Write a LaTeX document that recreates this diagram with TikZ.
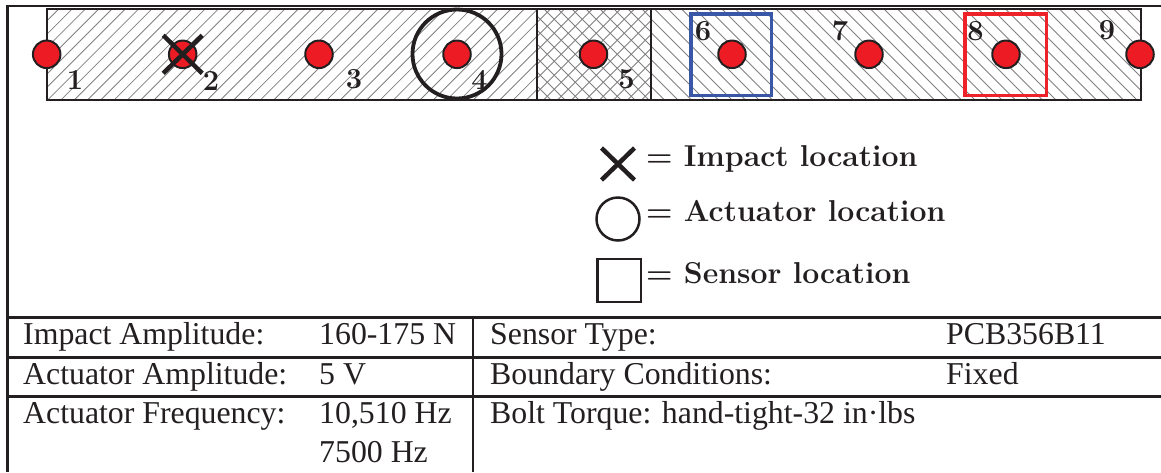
\documentclass[tikz,border=0pt]{standalone}
\usepackage{fontspec}
\newfontfamily\tnr{Liberation Serif}
\definecolor{dotred}{HTML}{ED1C24}
\definecolor{sblue}{HTML}{3A56A6}
\definecolor{sred}{HTML}{EE2229}
\definecolor{ink}{HTML}{231F20}
\begin{document}
\begin{tikzpicture}[x=1pt,y=-1pt,
  frameline/.style={line width=2.5pt, draw=ink},
  dot/.style={circle, fill=dotred, draw=ink, line width=2pt, minimum size=27.5pt, inner sep=0pt},
  lab/.style={font=\fontsize{29}{29}\selectfont\bfseries, inner sep=0pt, text=ink},
  cell/.style={font=\tnr\fontsize{31.8}{31.8}\selectfont, anchor=base west, inner sep=0pt, text=ink},
  legtxt/.style={font=\fontsize{30.2}{30.2}\selectfont\bfseries, anchor=base west, inner sep=0pt, text=ink},
  crossline/.style={line width=4.5pt, draw=ink},
  hatchline/.style={draw=black!50, line width=0.8pt},
]
\useasboundingbox (0,0) rectangle (1161,472);
% beam sections (hatching)
\begin{scope}
  \clip (46.7,9) rectangle (537,99.5);
  \foreach \x in {-45,-31.7,...,540} \draw[hatchline] (\x,99.5) -- (\x+90.5,9);
\end{scope}
\begin{scope}
  \clip (537,9) rectangle (651,99.5);
  \foreach \x in {446,460,...,660} {
    \draw[hatchline] (\x,99.5) -- (\x+90.5,9);
    \draw[hatchline] (\x,9) -- (\x+90.5,99.5);
  }
\end{scope}
\begin{scope}
  \clip (651,9) rectangle (1141,99.5);
  \foreach \x in {560,573.5,...,1150} \draw[hatchline] (\x,9) -- (\x+90.5,99.5);
\end{scope}
\draw[line width=2pt, draw=ink] (46.7,9) rectangle (1141,99.5);
\draw[line width=2pt, draw=ink] (537,9) -- (537,99.5) (651,9) -- (651,99.5);
% outer frame and table rules
\coordinate (tl) at (7.5,6);
\coordinate (tr) at (1161,6);
\coordinate (bl) at (7.5,472);
\draw[frameline] (tr) -- (tl) -- (bl);
\draw[frameline] (7.5,317.7) -- (1161,317.7);
\draw[frameline] (7.5,357.3) -- (1161,357.3);
\draw[frameline] (7.5,396.7) -- (1161,396.7);
\draw[frameline] (473,317.7) -- (473,472);
% actuator and sensors
\node[circle, draw=ink, line width=3.8pt, minimum size=89pt, inner sep=0pt] (act) at (457,54) {};
\node[draw=sblue, line width=3.5pt, minimum width=80.5pt, minimum height=81.5pt, inner sep=0pt] (s6) at (731,54.5) {};
\node[draw=sred, line width=3.5pt, minimum width=81.5pt, minimum height=81.5pt, inner sep=0pt] (s8) at (1005.5,54.5) {};
% dots
\node[dot] (d1) at (46.7,54.3) {};
\node[dot] (d2) at (182.7,54.3) {};
\node[dot] (d3) at (319,54.3) {};
\node[dot] (d4) at (457,54.3) {};
\node[dot] (d5) at (593.5,54.3) {};
\node[dot] (d6) at (732,54.3) {};
\node[dot] (d7) at (869,54.3) {};
\node[dot] (d8) at (1006,54.3) {};
\node[dot] (d9) at (1140,54.3) {};
% impact cross
\draw[crossline] ([shift={(-19.5,-19)}]d2.center) -- ([shift={(19.5,19)}]d2.center);
\draw[crossline] ([shift={(19.5,-19)}]d2.center) -- ([shift={(-19.5,19)}]d2.center);
% labels
\node[lab] (l1) at (75,80) {1};
\node[lab] (l2) at (211,81) {2};
\node[lab] (l3) at (354,79.5) {3};
\node[lab] (l4) at (479.5,80) {4};
\node[lab] (l5) at (626.6,79.5) {5};
\node[lab] (l6) at (703,31) {6};
\node[lab] (l7) at (840,30.5) {7};
\node[lab] (l8) at (975.5,31) {8};
\node[lab] (l9) at (1107,30) {9};
% legend
\coordinate (lx) at (618,164);
\draw[crossline] ([shift={(-16.5,-16)}]lx) -- ([shift={(16.5,16)}]lx);
\draw[crossline] ([shift={(16.5,-16)}]lx) -- ([shift={(-16.5,16)}]lx);
\node[circle, draw=ink, line width=2.5pt, minimum size=43pt, inner sep=0pt] (lc) at (618,219) {};
\node[draw=ink, line width=2.5pt, minimum width=43.5pt, minimum height=43pt, inner sep=0pt] (ls) at (619,280.3) {};
\node[legtxt] (t1) at (646,166.7) {= Impact location};
\node[legtxt] (t2) at (646,221) {= Actuator location};
\node[legtxt] (t3) at (646,283) {= Sensor location};
% table
\node[cell] (c11) at (23,344) {Impact Amplitude:};
\node[cell] (c12) at (319,344) {160-175 N};
\node[cell] (c13) at (490,344) {Sensor Type:};
\node[cell] (c14) at (946,344) {PCB356B11};
\node[cell] (c21) at (23,384) {Actuator Amplitude:};
\node[cell] (c22) at (319,384) {5 V};
\node[cell] (c23) at (490,384) {Boundary Conditions:};
\node[cell] (c24) at (946,384) {Fixed};
\node[cell] (c31) at (23,423) {Actuator Frequency:};
\node[cell] (c32) at (319,423) {10,510 Hz};
\node[cell] (c33) at (490,423) {Bolt Torque: hand-tight-32 in·lbs};
\node[cell] (c42) at (319,462) {7500 Hz};
\end{tikzpicture}
\end{document}
